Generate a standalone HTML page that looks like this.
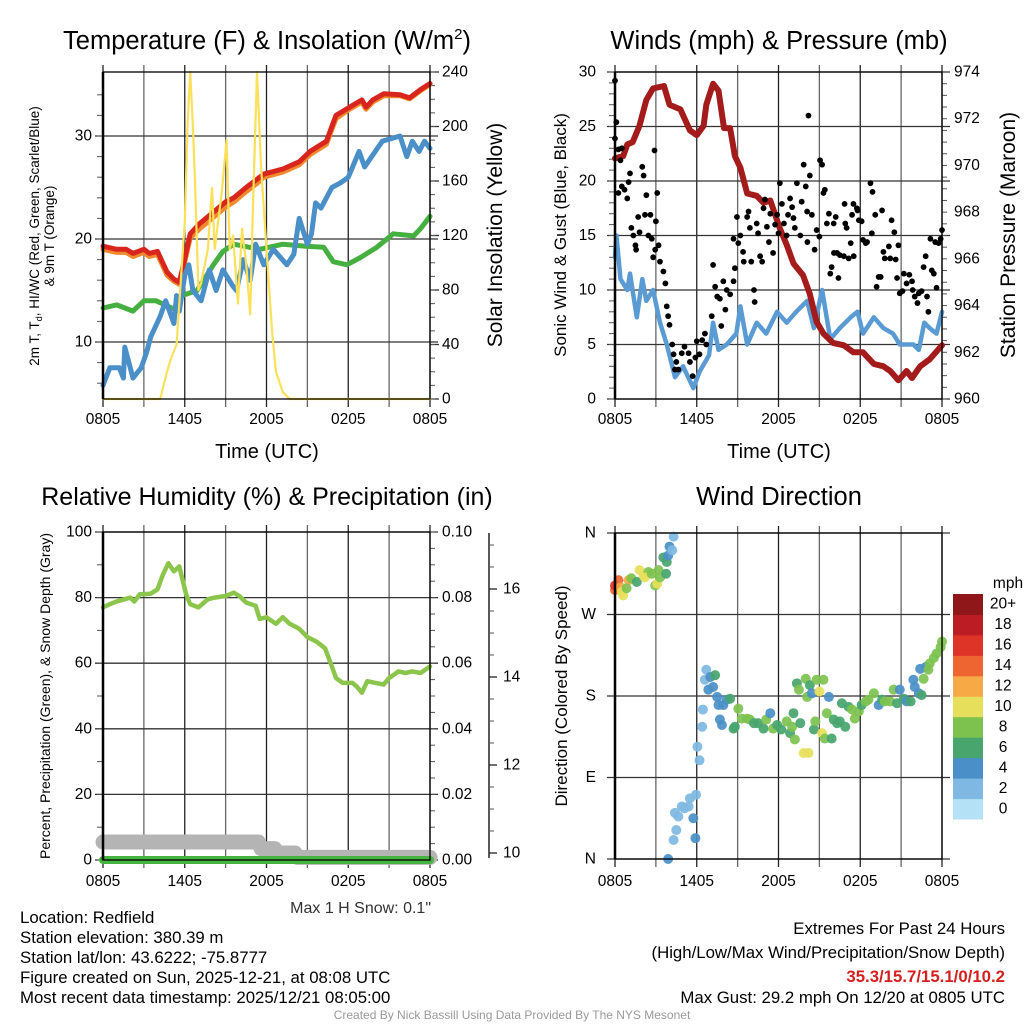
<!DOCTYPE html>
<html><head><meta charset="utf-8"><style>
html,body{margin:0;padding:0;background:#fff;}
svg{display:block;font-family:"Liberation Sans",Arial,sans-serif;}
</style></head><body>
<svg id="chart" width="1024" height="1024" viewBox="0 0 1024 1024" xmlns="http://www.w3.org/2000/svg">
<rect x="0" y="0" width="1024" height="1024" fill="#fff"/>
<g id="layer"></g>
<text x="267" y="49" font-size="25.5" text-anchor="middle">Temperature (F) &amp; Insolation (W/m<tspan font-size="15" dy="-10">2</tspan><tspan dy="10">)</tspan></text>
<text x="779" y="49" font-size="25.5" text-anchor="middle">Winds (mph) &amp; Pressure (mb)</text>
<text x="267" y="505" font-size="25" text-anchor="middle">Relative Humidity (%) &amp; Precipitation (in)</text>
<text x="779" y="505" font-size="25.5" text-anchor="middle">Wind Direction</text>
<text x="267" y="458" font-size="20" text-anchor="middle">Time (UTC)</text>
<text x="779" y="458" font-size="20" text-anchor="middle">Time (UTC)</text>
<text transform="translate(39,236) rotate(-90)" font-size="13.5" text-anchor="middle">2m T, T<tspan font-size="9" dy="3">d</tspan><tspan dy="-3">, HI/WC (Red, Green, Scarlet/Blue)</tspan></text>
<text transform="translate(54,236) rotate(-90)" font-size="13.5" text-anchor="middle">&amp; 9m T (Orange)</text>
<text transform="translate(502,235) rotate(-90)" font-size="21" text-anchor="middle">Solar Insolation (Yellow)</text>
<text transform="translate(566,235) rotate(-90)" font-size="17" text-anchor="middle">Sonic Wind &amp; Gust (Blue, Black)</text>
<text transform="translate(1015,235) rotate(-90)" font-size="21" text-anchor="middle">Station Pressure (Maroon)</text>
<text transform="translate(50,696) rotate(-90)" font-size="14" text-anchor="middle">Percent, Precipitation (Green), &amp; Snow Depth (Gray)</text>
<text transform="translate(567,696) rotate(-90)" font-size="17" text-anchor="middle">Direction (Colored By Speed)</text>
<text x="431" y="913" font-size="16" text-anchor="end" fill="#333">Max 1 H Snow: 0.1"</text>
<g font-size="16.8">
<text x="20" y="923">Location: Redfield</text>
<text x="20" y="943">Station elevation: 380.39 m</text>
<text x="20" y="963">Station lat/lon: 43.6222; -75.8777</text>
<text x="20" y="983">Figure created on Sun, 2025-12-21, at 08:08 UTC</text>
<text x="20" y="1003">Most recent data timestamp: 2025/12/21 08:05:00</text>
</g>
<g font-size="16.8" text-anchor="end">
<text x="1005" y="934">Extremes For Past 24 Hours</text>
<text x="1005" y="958">(High/Low/Max Wind/Precipitation/Snow Depth)</text>
<text x="1005" y="982" fill="#d42020" font-weight="bold">35.3/15.7/15.1/0/10.2</text>
<text x="1005" y="1003">Max Gust: 29.2 mph On 12/20 at 0805 UTC</text>
</g>
<text x="512" y="1019" font-size="12" fill="#999" text-anchor="middle">Created By Nick Bassill Using Data Provided By The NYS Mesonet</text>
</svg>
<script>
// ---------- Panel 1: temperature & insolation ----------
const tempTimes = [0,1,1.7,2.2,3,3.4,4,4.7,5.2,5.6,5.9,6.4,7.1,8,9,9.6,10.5,11.3,11.8,13.2,14.4,15.2,16.4,17.1,18.1,19,19.3,19.8,20.6,21.8,22.5,23.3,24];
const tempRed = [19.3,19.0,19.0,18.6,19.0,18.6,18.8,16.8,16.1,15.8,17.5,20.5,21.5,22.5,23.6,24.0,25.0,25.8,26.3,26.8,27.5,28.5,29.5,32.0,32.8,33.5,32.8,33.5,34.1,34.0,33.7,34.5,35.1];
const tempOrange = [19.0,18.7,18.7,18.3,18.7,18.3,18.5,16.5,15.9,15.6,17.2,20.1,21.0,22.0,23.1,23.6,24.6,25.4,26.0,26.5,27.2,28.2,29.2,31.7,32.6,33.3,32.6,33.3,33.9,33.9,33.6,34.4,35.0];
const greenTimes = [0,1,2.2,3,3.9,5.2,5.8,6.9,8.1,8.8,9.6,11.5,13.2,14.9,16.2,16.9,17.9,18.9,20.1,21.3,22.8,23.3,24];
const tempGreen = [13.3,13.6,13.0,14.0,14.0,13.2,14.5,15.0,17.5,18.8,19.5,19.0,19.5,19.3,19.2,17.8,17.5,18.2,19.2,20.5,20.3,21.0,22.2];
const blueTimes = [0,0.5,1.2,1.5,1.6,2.2,2.8,3.2,3.5,4.2,4.6,5.2,5.4,5.6,6,6.3,6.6,7.2,7.8,8.3,8.8,9.5,9.8,10.3,10.8,11.2,11.8,12.5,13.5,14,14.4,15,15.3,15.6,16,16.8,17.5,18,18.8,19.2,20.5,21.8,22.3,22.7,23.2,23.6,24];
const tempBlue = [5.8,7.5,7.5,6.5,9.5,6.5,7.5,9,10.5,12.5,14,11.8,14.5,13,16.5,17.5,15,14,17,15,17,15.5,15,18,16,19.5,17.5,19,17.5,18.5,22,19.5,20.5,23.5,23,25,25.5,26,28.5,27,29.5,30,28,29.5,28.5,29.5,28.8];
const solarTimes = [0,4.2,4.7,5.0,5.4,5.8,6.0,6.2,6.4,6.6,6.75,7.0,7.2,7.7,8.0,8.2,8.45,8.7,9.07,9.3,9.55,9.9,10.2,10.5,10.8,11.0,11.3,11.6,12.0,12.4,12.7,13.2,13.7,24];
const solarVals = [0,0,20,30,40,100,130,200,240,200,160,80,85,110,155,110,130,150,190,110,120,70,125,100,62,140,240,170,110,50,20,5,0,0];
const tempTicks = [10,20,30];
const solarTicks = [0,40,80,120,160,200,240];
const timeTickLabels = ["0805","1405","2005","0205","0805"];

// ---------- Panel 2: winds & pressure ----------
const presTimes = [0,0.6,0.9,1.3,1.8,2.3,2.8,3.6,4.0,4.8,5.5,6.0,6.5,6.7,7.2,7.6,8.0,8.45,8.8,9.2,9.7,10.4,10.9,11.4,12.1,12.6,13.1,13.8,14.3,14.8,15.3,16.0,16.8,17.5,18.2,19.0,19.7,20.2,20.8,21.4,21.8,22.4,23.1,24];
const presVals = [970.3,970.4,970.9,971.0,971.7,972.8,973.3,973.4,972.6,972.4,971.5,971.3,971.7,972.6,973.5,973.2,971.6,971.6,970.4,969.9,968.8,968.7,968.4,968.5,967.3,966.6,965.8,965.3,964.5,963.3,962.8,962.4,962.3,962.0,962.0,961.5,961.4,961.2,960.8,961.2,960.9,961.4,961.7,962.3];
const windTimes = [0,0.1,0.4,0.9,1.1,1.6,2.0,2.3,2.8,3.3,3.8,4.4,5.0,5.75,6.2,6.9,7.2,7.6,8.2,8.9,9.2,9.7,10.4,11.1,11.9,12.6,13.3,14.1,14.6,15.2,15.8,16.5,17.3,17.8,18.2,19.0,19.7,20.4,20.9,21.9,22.3,22.7,23.1,23.6,24];
const windVals = [13,15,11,10,11.5,7.5,11,9,10,7,5,2,3,1,2.5,4,7,4.5,5,6,8.5,5,7,6,8,7,8,9,6.5,10,5.5,6.5,7.5,8,6,7.5,6.5,6,5,5,4.5,7,6.5,6,8];
const gustTimes = [0,0.1,0,0.25,0.4,0.5,0.25,0.5,0.7,0.9,1.0,1.1,1.2,1.35,1.5,1.55,1.8,1.7,2.0,2.1,2.3,2.2,2.6,2.45,2.7,2.8,2.9,3.1,3.0,2.95,3.2,3.3,3.55,3.7,3.8,3.9,4.0,4.2,4.3,4.5,4.65,4.4,4.9,5.1,5.4,5.5,5.7,5.9,6.0,6.2,6.4,6.6,6.7,7.1,7.2,7.35,7.5,7.7,7.8,7.95,8.1,8.2,8.45,8.7,8.8,8.7,8.95,9.05,9.2,9.4,9.45,9.7,9.8,9.9,10.0,10.2,10.25,10.4,10.5,10.65,10.8,10.9,11.0,11.15,11.3,11.4,11.6,11.75,11.9,12.0,12.1,12.25,12.4,12.6,12.7,12.85,13.0,13.1,13.2,13.35,13.6,13.7,13.85,14.0,14.1,14.12,14.2,14.3,14.45,14.65,14.8,15.0,15.05,15.2,15.3,15.4,15.55,15.7,15.8,15.9,16.05,16.2,16.07,16.3,16.4,16.5,16.8,16.9,17.0,16.85,17.15,17.3,17.5,17.4,17.52,17.75,17.8,17.9,18.1,18.2,18.4,18.5,18.75,18.9,18.85,19.1,19.2,19.35,19.5,19.6,19.7,19.8,20.1,20.2,20.3,20.5,20.6,20.7,20.8,20.9,21.1,21.2,21.4,21.6,21.8,21.85,22.0,22.2,22.3,22.5,22.65,22.8,22.9,23.0,23.15,23.25,23.4,23.5,23.6,23.75,23.9,24];
const gustVals = [29.2,25.4,23.9,22.9,21.9,23,18.9,19.5,19.2,18.4,19.9,20.7,15.7,15,14.1,13.7,15.3,16.7,21.3,20.5,18.7,16.9,16.9,15,14.7,13,22.8,18.9,16.3,13.7,14.1,12.6,11.7,10.6,8.5,7.6,6.8,5,4.1,3.4,2.7,2.7,4.2,4.8,4.2,3.4,2.1,3.8,5.3,4.1,5.4,6,5,7.6,12.3,10.3,9.4,9.2,6.7,10.8,8.2,10,9.6,10.8,12,14.7,16.7,14.3,15,13.5,12.6,16.7,17.2,15.7,12.6,10,8.9,16.1,15.2,13.1,12.6,17.5,18.3,15.8,14.4,17,13.4,16,16.9,15.2,19.8,17.9,16.1,15,16.9,18.4,17.6,16.6,15.7,19.8,15,18.1,21.5,19.5,17.2,14.4,26,20.5,16.9,13.7,15.5,14.9,21.9,21.5,18.9,19.2,16.1,17,11.5,12.1,16.1,16.7,13.4,13.4,11.1,13.2,13.1,16.1,15.7,17.9,12.9,14.3,17.9,16.9,13.1,17.5,17.3,16.4,16.3,14.6,14.3,14.4,19.8,19,15.2,16.9,10.3,11.2,11.2,17.3,13.5,12.9,14,12.9,16.4,15.3,12.8,11.1,14.1,9.7,9.9,11.5,10.6,11.4,10.8,10,9.4,8.8,9.7,9.9,12.1,13.1,9.4,8,14.7,11.8,11.5,14.4,10.2,14.3,14.7,15.5];
const windTicks = [0,5,10,15,20,25,30];
const presTicks = [960,962,964,966,968,970,972,974];

// ---------- Panel 3: humidity, precip, snow ----------
const rhTimes = [0,0.5,1,2,2.3,2.7,3.5,4,4.4,4.8,5.2,5.6,6.1,6.4,7,7.7,8.2,9,9.6,10,10.5,11.2,11.5,12,12.7,13.2,13.7,14.4,15,15.7,16.3,16.8,17.1,17.6,18.3,18.6,19,19.4,20,20.6,21,21.7,22.2,22.7,23.3,24];
const rhVals = [77,78,78.8,80,78.8,81,81.2,82.5,87,90.5,88,89.5,81,78,77,79.5,80,80.5,81.5,80.5,78.5,77.5,73.5,74,72,74,72,70.5,68,66.5,64.5,59,55.5,54,54,53,51,54.5,54,53.5,55.5,57.5,57,57.5,57,59];
const precipTimes = [0,24];
const precipVals = [0,0];
const snowTimes = [0,11.4,11.6,12.6,12.8,14.1,14.3,24];
const snowVals = [10.25,10.25,10.1,10.1,10.0,10.0,9.9,9.9];
const rhTicks = [0,20,40,60,80,100];
const precipTickLabels = ["0.00","0.02","0.04","0.06","0.08","0.10"];
const snowTicks = [10,12,14,16];

// ---------- Panel 4: wind direction ----------
const dirTimes = [0,0,0.25,0.4,0.6,0.5,1.0,0.85,1.2,1.6,1.8,2.1,2.45,2.2,2.7,2.95,3.1,3.2,3.3,3.55,3.75,3.8,3.9,4.0,4.2,4.3,3.9,4.3,4.5,4.4,4.65,4.9,5.1,5.4,5.5,5.75,5.9,5.95,6.05,6.2,6.4,6.45,6.6,6.7,6.85,7.0,7.2,7.35,7.5,7.6,7.7,7.85,7.95,8.2,8.45,8.7,8.8,9.05,9.3,9.7,9.9,10.2,10.5,10.9,11.1,11.4,11.6,11.9,12.2,12.6,12.85,13.0,13.1,13.2,13.35,13.5,13.6,13.85,14.0,14.1,14.2,14.3,14.45,14.6,14.7,14.8,15.0,15.2,15.3,15.4,15.55,15.7,15.9,16.05,16.3,16.5,16.65,16.9,17.15,17.4,17.6,17.9,18.1,18.4,18.6,19.0,19.35,19.6,19.8,20.2,20.45,20.7,20.9,21.2,21.4,21.7,21.9,22.0,22.3,22.4,22.5,22.65,22.8,23.0,23.1,23.4,23.6,23.9,24];
const dirVals = [297,302,308,300,291,295,308,299,310,306,319,313,317,311,315,302,304,319,311,333,315,328,335,345,341,356,0,21,32,51,47,58,56,58,67,45,23,71,124,109,146,165,198,209,187,201,190,203,179,170,154,148,170,176,177,144,146,166,155,155,154,150,150,144,154,161,144,148,143,152,139,146,161,132,194,187,150,117,199,179,117,192,183,143,152,198,185,139,198,133,161,179,133,154,150,152,172,146,168,165,155,163,170,174,176,183,170,176,174,174,187,172,187,177,174,174,198,190,183,210,181,199,212,209,216,222,227,234,240];
const dirSpeeds = [13,15,13,12,10,10,12,8,8,6,10,10,8,10,8,8,10,8,8,6,6,6,4,4,2,2,4,2,2,2,2,2,2,2,1,4,4,2,2,2,2,2,2,2,4,4,4,6,4,4,4,4,4,4,6,6,6,8,8,8,8,6,6,6,8,4,8,6,6,8,6,8,6,8,6,8,6,10,8,8,10,6,4,6,8,8,10,10,8,8,8,4,6,6,6,6,6,6,6,8,8,8,6,8,8,8,4,6,8,8,8,6,4,6,4,6,4,4,4,4,6,8,4,8,8,8,8,8,8];
const dirTickLabels = ["N","E","S","W","N"];
const speedLevels = ["0","2","4","6","8","10","12","14","16","18","20+"];
const speedColors = ["#b5e1f6","#7fb8e2","#4a8fc7","#48a56e","#7dc24f","#e6df5b","#f6a945","#ef6531","#de3428","#bc1c24","#8f1619"];

// ---------- drawing helpers ----------
const NS = "http://www.w3.org/2000/svg";
const layer = document.getElementById("layer");
function mk(tag, attrs, parent) {
  const e = document.createElementNS(NS, tag);
  for (const k in attrs) e.setAttribute(k, attrs[k]);
  (parent || layer).appendChild(e);
  return e;
}
function lin(d0, d1, r0, r1) { return v => r0 + (v - d0) / (d1 - d0) * (r1 - r0); }
function pathFrom(ts, vs, xs, ys) {
  let d = "";
  for (let i = 0; i < ts.length; i++) d += (i ? "L" : "M") + xs(ts[i]).toFixed(1) + "," + ys(vs[i]).toFixed(1);
  return d;
}
function drawLine(ts, vs, xs, ys, color, w, name) {
  const p = mk("path", {d: pathFrom(ts, vs, xs, ys), fill: "none", stroke: color, "stroke-width": w, "stroke-linejoin": "round", "stroke-linecap": "round"});
  
  
  return p;
}
function frame(x0, x1, yT, yB, prefix, tickY) {
  for (let h = 0; h <= 24; h += 3) {
    const x = x0 + h / 24 * (x1 - x0);
    const g = mk("line", {x1: x, x2: x, y1: yT - 7, y2: yB + 8, stroke: h % 6 === 0 ? "#222" : "#666", "stroke-width": 1.3});
    
    
  }
  for (let i = 0; i < timeTickLabels.length; i++) {
    const x = x0 + i * 6 / 24 * (x1 - x0);
    const t = mk("text", {x: x, y: tickY, "font-size": 15.5, "text-anchor": "middle"});
    t.textContent = timeTickLabels[i];
    
    
  }
}
function hGrid(x0, x1, y, prefix) {
  const g = mk("line", {x1: x0 - 8, x2: x1 + 8, y1: y, y2: y, stroke: "#333", "stroke-width": 1.3});
  
  
}
function label(x, y, txt, anchor, size, name) {
  const t = mk("text", {x: x, y: y, "font-size": size || 15, "text-anchor": anchor, "dominant-baseline": "central"});
  t.textContent = txt;
  
  
  return t;
}
function minorTicks(x, y0, y1, step, dir, name) {
  for (let y = y0; (y1 > y0 ? y <= y1 : y >= y1); y += step) {
    const m = mk("line", {x1: x, x2: x + dir * 5, y1: y, y2: y, stroke: "#555", "stroke-width": 1});
    
    
  }
}
function border(x0, x1, yT, yB, name) {
  const r = mk("rect", {x: x0, y: yT, width: x1 - x0, height: yB - yT, fill: "none", stroke: "#000", "stroke-width": 1.3});
  
  
  const l = mk("line", {x1: x0, x2: x0, y1: yT, y2: yB, stroke: "#000", "stroke-width": 2.5});
  
  
}

// ---------- Panel 1 ----------
(function () {
  const x0 = 103, x1 = 430, yT = 72, yB = 399;
  const xs = lin(0, 24, x0, x1);
  const yl = lin(10, 30, 342, 136);
  const yr = lin(0, 240, yB, yT);
  frame(x0, x1, yT, yB, "temperature", 424);
  for (const v of tempTicks) { hGrid(x0, x1, yl(v), "temperature"); label(92, yl(v), String(v), "end", 15.5, "temperature-tick-label"); }
  minorTicks(x0 - 1, yl(6), yl(36), yl(12) - yl(10), -1, "temperature-minor-tick");
  for (const v of solarTicks) {
    const tk = mk("line", {x1: x1, x2: x1 + 9, y1: yr(v), y2: yr(v), stroke: "#333", "stroke-width": 1.3});
    
    
    label(442, yr(v), String(v), "start", 15.5, "insolation-tick-label");
  }
  minorTicks(x1, yr(0), yr(240), yr(10) - yr(0), 1, "insolation-minor-tick");
  drawLine(tempTimes, tempOrange, xs, yl, "#f08a2c", 5, "nine-meter-temperature-line");
  drawLine(tempTimes, tempRed, xs, yl, "#d8261f", 5, "two-meter-temperature-line");
  drawLine(greenTimes, tempGreen, xs, yl, "#45b03f", 5, "dewpoint-line");
  drawLine(blueTimes, tempBlue, xs, yl, "#4a8fc8", 5, "wind-chill-line");
  drawLine(solarTimes, solarVals, xs, yr, "#fbe05a", 2.2, "solar-insolation-line");
  border(x0, x1, yT, yB, "temperature-plot-frame");
})();

// ---------- Panel 2 ----------
(function () {
  const x0 = 615, x1 = 942, yT = 72, yB = 399;
  const xs = lin(0, 24, x0, x1);
  const yl = lin(0, 30, yB, yT);
  const yr = lin(960, 974, yB, yT);
  frame(x0, x1, yT, yB, "winds", 424);
  for (const v of windTicks) { hGrid(x0, x1, yl(v), "winds"); label(596, yl(v), String(v), "end", 15.5, "wind-tick-label"); }
  minorTicks(x0 - 1, yl(0), yl(30), yl(1) - yl(0), -1, "wind-minor-tick");
  for (const v of presTicks) label(954, yr(v), String(v), "start", 15.5, "pressure-tick-label");
  minorTicks(x1, yr(960), yr(974), yr(960.5) - yr(960), 1, "pressure-minor-tick");
  drawLine(windTimes, windVals, xs, yl, "#5a9bd4", 4.5, "sonic-wind-line");
  drawLine(presTimes, presVals, xs, yr, "#a31b1b", 6, "station-pressure-line");
  for (let i = 0; i < gustTimes.length; i++) {
    const c = mk("circle", {cx: xs(gustTimes[i]), cy: yl(gustVals[i]), r: 2.9, fill: "#000"});
    
    
  }
  border(x0, x1, yT, yB, "winds-plot-frame");
})();

// ---------- Panel 3 ----------
(function () {
  const x0 = 103, x1 = 430, yT = 532, yB = 860;
  const xs = lin(0, 24, x0, x1);
  const yl = lin(0, 100, yB, yT);
  const ys = lin(10, 16, 853, 589);
  frame(x0, x1, yT, yB, "humidity", 886);
  for (let i = 0; i < rhTicks.length; i++) {
    const v = rhTicks[i];
    hGrid(x0, x1, yl(v), "humidity");
    label(92, yl(v), String(v), "end", 15.5, "humidity-tick-label");
    label(442, yl(v), precipTickLabels[i], "start", 15.5, "precipitation-tick-label");
  }
  minorTicks(x0 - 1, yB, yT, yl(10) - yl(0), -1, "humidity-minor-tick");
  minorTicks(x1, yB, yT, yl(5) - yl(0), 1, "precipitation-minor-tick");
  const ax = mk("line", {x1: 489, x2: 489, y1: 533, y2: 858, stroke: "#222", "stroke-width": 1.5});
  
  
  minorTicks(489, ys(10), ys(17.4), ys(10.5) - ys(10), 1, "snow-depth-minor-tick");
  for (const v of snowTicks) {
    const tk = mk("line", {x1: 489, x2: 497, y1: ys(v), y2: ys(v), stroke: "#222", "stroke-width": 1.3});
    
    
    label(503, ys(v), String(v), "start", 15.5, "snow-depth-tick-label");
  }
  drawLine(snowTimes, snowVals, xs, ys, "#b4b4b4", 15, "snow-depth-line");
  drawLine(precipTimes, precipVals, xs, lin(0, 0.1, yB, yT), "#46b440", 8, "precipitation-line");
  drawLine(rhTimes, rhVals, xs, yl, "#8cc54b", 4.5, "relative-humidity-line");
  border(x0, x1, yT, yB, "humidity-plot-frame");
})();

// ---------- Panel 4 ----------
(function () {
  const x0 = 615, x1 = 942, yT = 533, yB = 859;
  const xs = lin(0, 24, x0, x1);
  const yd = lin(0, 360, yB, yT);
  frame(x0, x1, yT, yB, "direction", 886);
  for (let i = 0; i < dirTickLabels.length; i++) {
    const y = yd(i * 90);
    hGrid(x0, x1, y, "direction");
    label(596, y, dirTickLabels[i], "end", 15.5, "direction-tick-label");
  }
  function colorFor(s) { let k = Math.floor((s + 1) / 2); if (k > 10) k = 10; if (k < 0) k = 0; return speedColors[k]; }
  for (let i = 0; i < dirTimes.length; i++) {
    const c = mk("circle", {cx: xs(dirTimes[i]), cy: yd(dirVals[i]), r: 5, fill: colorFor(dirSpeeds[i]), "fill-opacity": 0.92});
    
    
  }
  border(x0, x1, yT, yB, "direction-plot-frame");
  const cbTop = 594, cbH = 225, n = speedLevels.length, bh = cbH / n;
  for (let i = 0; i < n; i++) {
    const y = cbTop + (n - 1 - i) * bh;
    const r = mk("rect", {x: 953, y: y, width: 30, height: bh + 0.5, fill: speedColors[i]});
    
    
    label(1003, y + bh / 2, speedLevels[i], "middle", 15.5, "colorbar-label");
  }
  const u = mk("text", {x: 1008, y: 588, "font-size": 15.5, "text-anchor": "middle"});
  u.textContent = "mph";
  
  
})();
</script>
</body></html>
